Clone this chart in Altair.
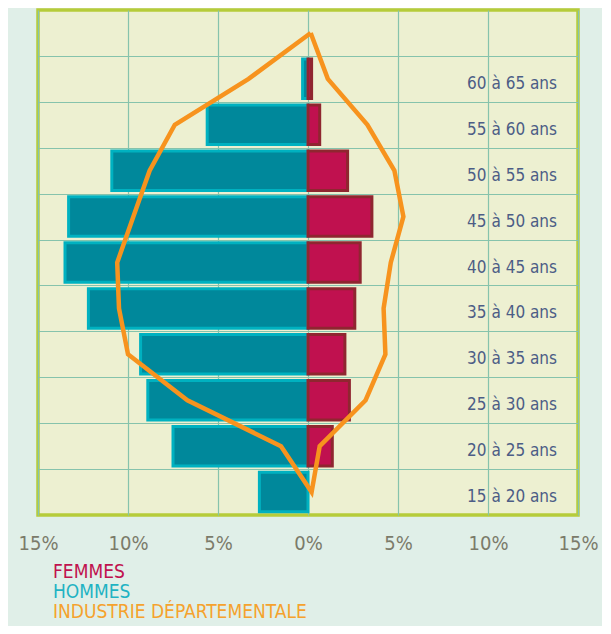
import altair as alt
import pandas as pd

# ---- data (percent) ----
ages = ["15 à 20 ans", "20 à 25 ans", "25 à 30 ans", "30 à 35 ans", "35 à 40 ans",
        "40 à 45 ans", "45 à 50 ans", "50 à 55 ans", "55 à 60 ans", "60 à 65 ans"]
hommes = [2.7, 7.5, 8.9, 9.3, 12.2, 13.5, 13.3, 10.9, 5.6, 0.3]
femmes = [0.0, 1.35, 2.3, 2.05, 2.6, 2.9, 3.55, 2.2, 0.65, 0.2]

# industrie départementale outline: right side (femmes) 15-20 .. 60-65 then apex (65-70)
industrie_femmes = [0.2, 0.65, 3.2, 4.3, 4.2, 4.6, 5.3, 4.8, 3.3, 1.1, 0.15]
# left side (hommes) 20-25 .. 60-65
industrie_hommes = [1.5, 6.7, 10.0, 10.5, 10.6, 9.7, 8.8, 7.4, 3.3]

x_ticks = [-15, -10, -5, 0, 5, 10, 15]
legend_labels = ["FEMMES", "HOMMES", "INDUSTRIE DÉPARTEMENTALE"]
legend_colors = ["#c0124f", "#1fb3c3", "#f5a22d"]

FONT = "DejaVu Sans Condensed, Roboto, sans-serif"
GRID = "#86c3ac"

# ---- tables ----
bars = pd.DataFrame({
    "age": ages,
    "idx": list(range(len(ages))),
    "hommes": hommes,
    "femmes": femmes,
})
bars["y0"] = bars["idx"] + 0.07
bars["y1"] = bars["idx"] + 0.93
bars["h_neg"] = -bars["hommes"]
bars["zero"] = 0.0
bars["yc"] = bars["idx"] + 0.5

# outline: apex -> right side downward -> bottom -> left side upward -> apex
seq = [{"x": industrie_femmes[-1], "y": 10.5}]
seq += [{"x": industrie_femmes[i], "y": i + 0.5} for i in range(9, -1, -1)]
seq += [{"x": -v, "y": j + 1.5} for j, v in enumerate(industrie_hommes)]
seq += [{"x": industrie_femmes[-1], "y": 10.5}]
line_df = pd.DataFrame(seq)
line_df["o"] = range(len(line_df))

xscale = alt.Scale(domain=[-15, 15], nice=False, zero=False)
yscale = alt.Scale(domain=[0, 11], nice=False, zero=False)

xaxis = alt.Axis(values=x_ticks, labelExpr="abs(datum.value) + '%'", title=None,
                 domain=False, ticks=False, grid=True, gridColor=GRID, gridWidth=1.2,
                 labelFont=FONT, labelFontSize=20, labelColor="#7b7b6a",
                 labelPadding=18, labelFlush=False, labelOverlap=False)
yaxis = alt.Axis(values=list(range(1, 11)), labels=False, title=None, domain=False,
                 ticks=False, grid=True, gridColor=GRID, gridWidth=1.2)

base = alt.Chart(bars)

h_bars = base.mark_bar(fill="#00889b", stroke="#00b1c0", strokeWidth=3).encode(
    x=alt.X("h_neg:Q", scale=xscale, axis=xaxis),
    x2="zero:Q",
    y=alt.Y("y0:Q", scale=yscale, axis=yaxis),
    y2="y1:Q",
)
f_bars = base.transform_filter("datum.femmes > 0").mark_bar(
    fill="#c0114f", stroke="#8f2630", strokeWidth=3).encode(
    x="zero:Q", x2="femmes:Q", y="y0:Q", y2="y1:Q",
)

line = alt.Chart(line_df).mark_line(color="#f7931e", strokeWidth=4.5, strokeJoin="miter").encode(
    x="x:Q", y="y:Q", order="o:Q"
)

labels = base.mark_text(align="right", baseline="middle", dy=5, font=FONT,
                        fontSize=17, color="#4c5d86").encode(
    x=alt.value(519), y="yc:Q", text="age:N"
)

leg_layers = []
for k, (lab, col) in enumerate(zip(legend_labels, legend_colors)):
    leg_layers.append(
        alt.Chart(pd.DataFrame({"t": [lab]})).mark_text(
            align="left", baseline="alphabetic", font=FONT, fontSize=19, color=col
        ).encode(x=alt.value(15), y=alt.value(568 + 20 * k), text="t:N")
    )

chart = alt.layer(h_bars, f_bars, line, labels, *leg_layers).properties(
    width=540, height=505,
    autosize=alt.AutoSizeParams(type="none"),
    padding={"left": 30, "top": 2, "right": 24, "bottom": 111},
    background="#e0efe8",
).configure_view(
    fill="#edf0d1", stroke="#b6cc3a", strokeWidth=3.5
)

chart.save("out.html", embed_options={"renderer": "svg", "actions": False})
